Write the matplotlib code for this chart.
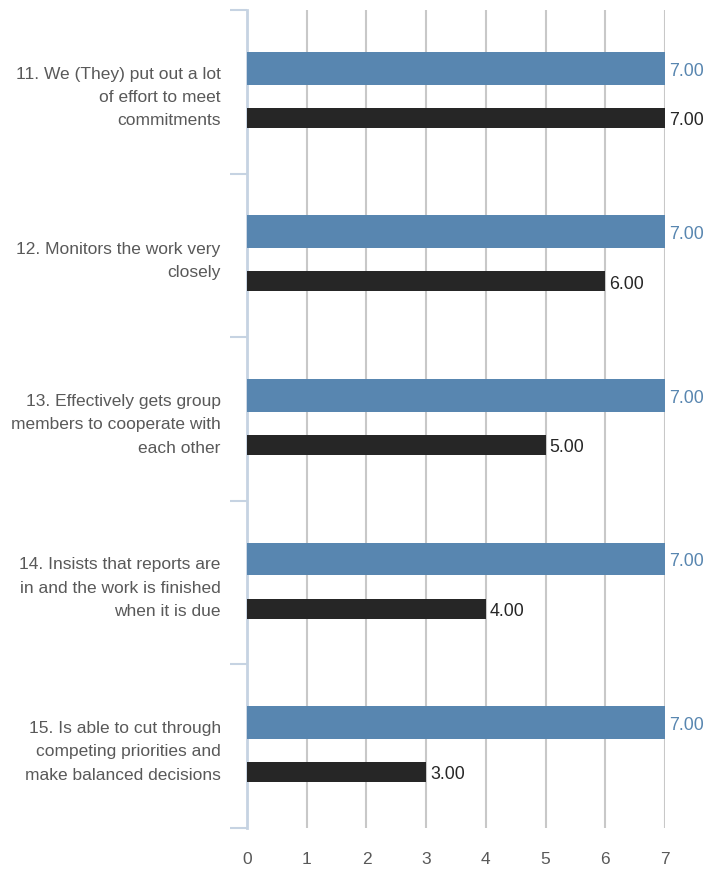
import matplotlib.pyplot as plt
from matplotlib.ticker import FixedLocator

categories = [
    "11. We (They) put out a lot\nof effort to meet\ncommitments",
    "12. Monitors the work very\nclosely",
    "13. Effectively gets group\nmembers to cooperate with\neach other",
    "14. Insists that reports are\nin and the work is finished\nwhen it is due",
    "15. Is able to cut through\ncompeting priorities and\nmake balanced decisions",
]
series_a = [7.00, 7.00, 7.00, 7.00, 7.00]
series_b = [7.00, 6.00, 5.00, 4.00, 3.00]
x_ticks = [0, 1, 2, 3, 4, 5, 6, 7]

BLUE = "#5886b0"
DARK = "#262626"
TEXT = "#595959"
SPINE = "#c6d3e2"
GRID = "#c8c8c8"

plt.rcParams["font.family"] = ["Liberation Sans", "DejaVu Sans"]

fig = plt.figure(figsize=(7.07, 8.71), dpi=100)
ax = fig.add_axes([0.3494, 0.0494, 0.5912, 0.9391])

ys = list(range(len(categories)))
ya = [y - 0.144 for y in ys]
yb = [y + 0.159 for y in ys]
ax.barh(ya, series_a, height=0.2, color=BLUE, zorder=3)
ax.barh(yb, series_b, height=0.122, color=DARK, zorder=3)

for y, v in zip(ya, series_a):
    ax.annotate(f"{v:.2f}", (v, y), xytext=(3, -2), textcoords="offset points",
                ha="left", va="center", fontsize=12.8, color=BLUE)
for y, v in zip(yb, series_b):
    ax.annotate(f"{v:.2f}", (v, y), xytext=(3, -2), textcoords="offset points",
                ha="left", va="center", fontsize=12.8, color=DARK)

ax.set_xlim(0, 7)
ax.set_ylim(len(categories) - 0.5, -0.5)
ax.xaxis.set_major_locator(FixedLocator(x_ticks))
ax.set_xticklabels([str(t) for t in x_ticks])
ax.xaxis.grid(True, color=GRID, linewidth=1.5, zorder=0)
ax.tick_params(axis="x", length=0, pad=17, labelsize=12.5, labelcolor=TEXT)

# category separators on the left axis
ax.set_yticks([i - 0.5 for i in range(len(categories) + 1)])
ax.set_yticklabels([])
ax.tick_params(axis="y", length=12, width=1.5, color=SPINE, direction="out")
ax.set_yticks(ys, minor=True)
ax.set_yticklabels(categories, minor=True)
ax.tick_params(axis="y", which="minor", length=0, pad=19, labelsize=12.5,
               labelcolor=TEXT)
for lbl in ax.get_yticklabels(minor=True):
    lbl.set_horizontalalignment("right")
    lbl.set_multialignment("right")
    lbl.set_linespacing(1.7)

for s in ["top", "right", "bottom"]:
    ax.spines[s].set_visible(False)
ax.spines["left"].set_color(SPINE)
ax.spines["left"].set_linewidth(2)

fig.savefig("out.png", dpi=100)
